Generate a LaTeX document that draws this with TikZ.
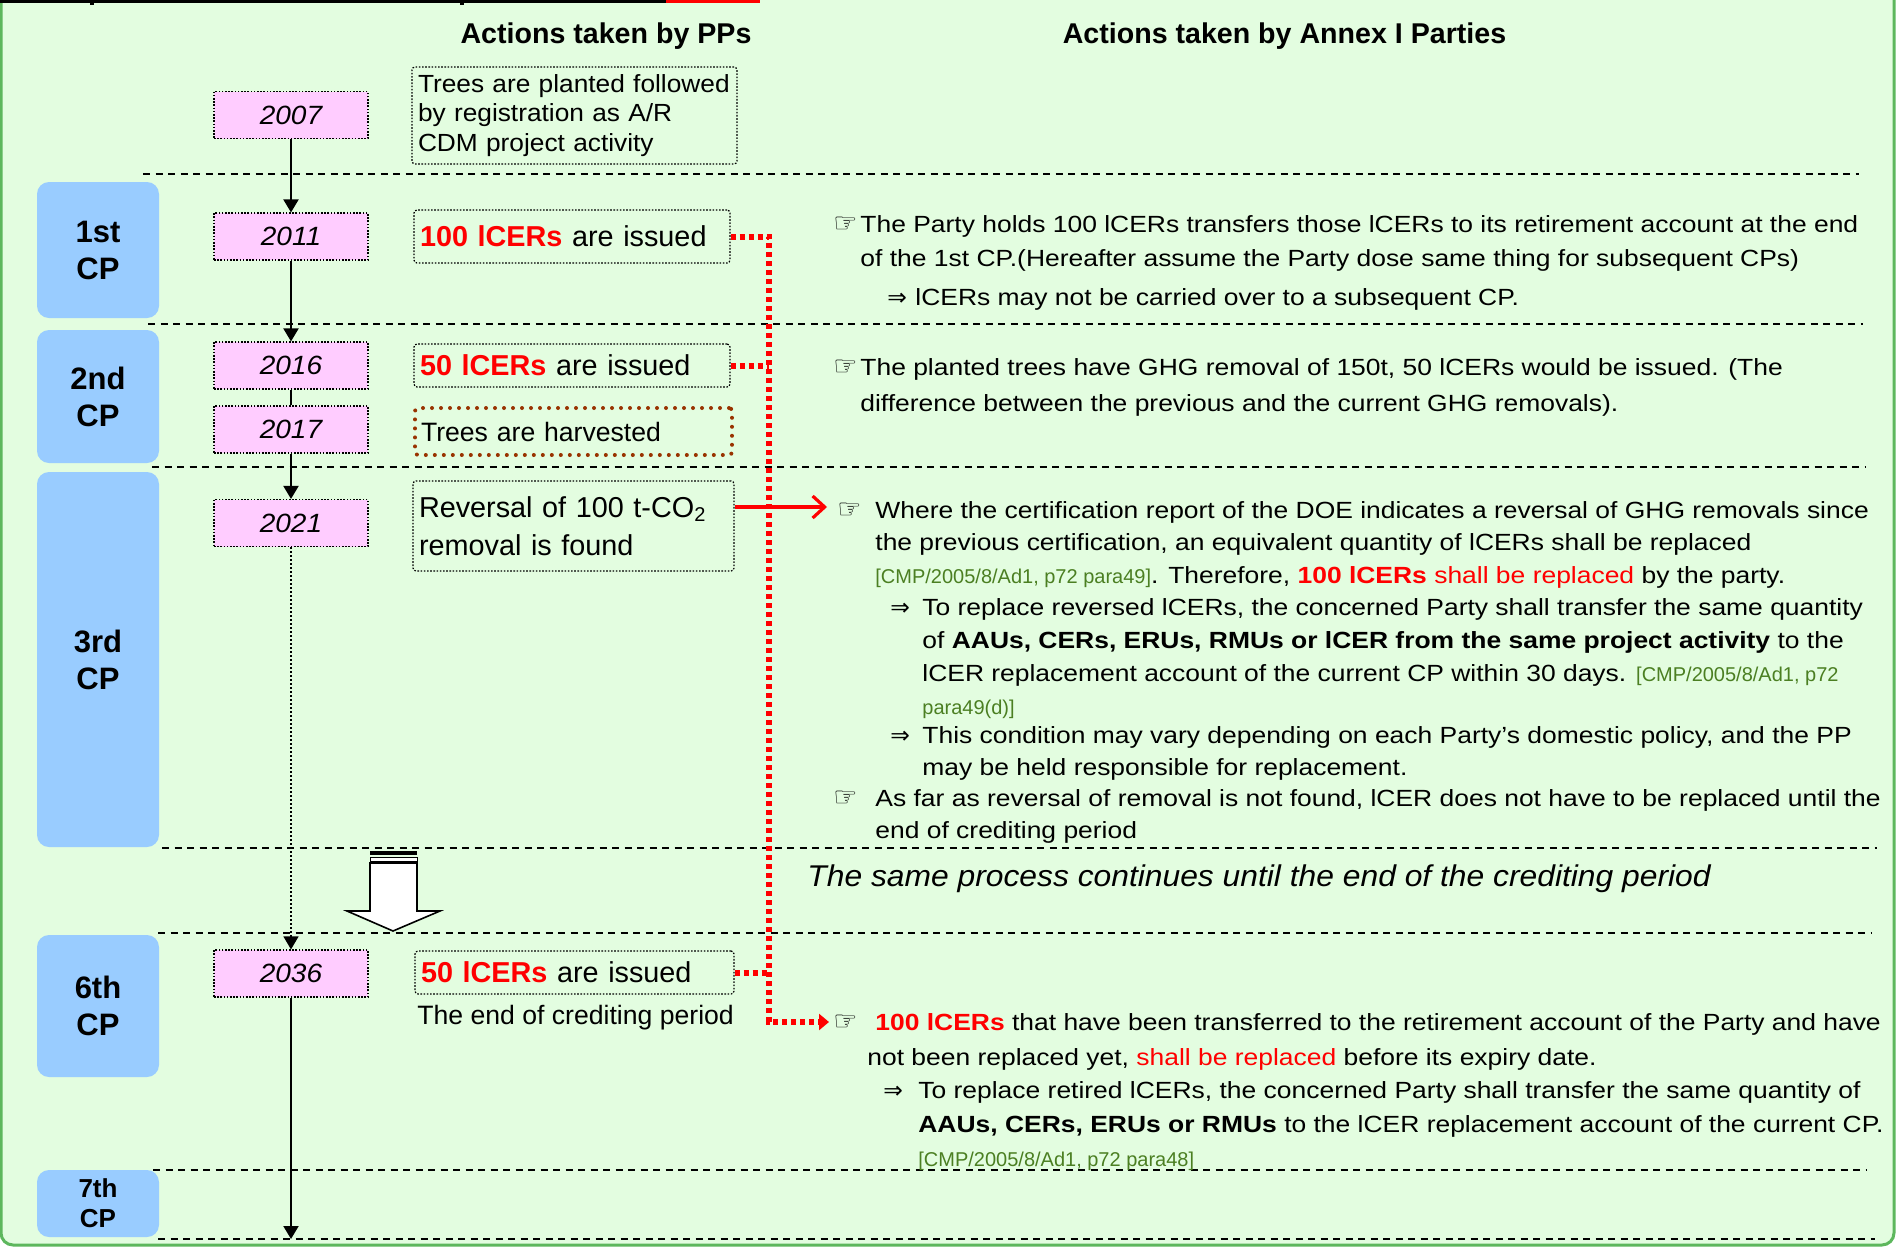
\documentclass[tikz,border=0pt]{standalone}
\usepackage{fontspec}
\setmainfont{Liberation Sans}
\newfontfamily\symfont{DejaVu Sans}
\newfontfamily\rtext[FakeStretch=1.13]{Liberation Sans}
\newfontfamily\ltext[FakeStretch=1.06]{Liberation Sans}
\usetikzlibrary{arrows.meta}
\definecolor{bg}{HTML}{E3FDE0}
\definecolor{pinkbox}{HTML}{FFCCFF}
\definecolor{cpblue}{HTML}{99CCFF}
\definecolor{citgreen}{HTML}{4B7F22}
\definecolor{brownd}{HTML}{993300}
\definecolor{frame}{HTML}{5DB75D}
\newcommand{\fs}[2]{\fontsize{#1}{#2}\selectfont}
\newcommand{\hand}{{\symfont\fontsize{13.5pt}{13.5pt}\selectfont ☞}}
\newcommand{\imp}{{\symfont ⇒}}
\newcommand{\cit}[1]{{\rmfamily\fontsize{10pt}{12pt}\selectfont\color{citgreen}#1}}
\newcommand{\rl}[1]{\begin{tabular}[t]{@{}l@{}}#1\end{tabular}}
\begin{document}
\begin{tikzpicture}[x=0.5pt,y=-0.5pt,
  hdr/.style={anchor=base, inner sep=0pt, font=\fs{14.3pt}{17pt}\bfseries},
  cpbox/.style={fill=cpblue, rounded corners=6pt, minimum width=61pt, inner sep=0pt, align=center, font=\fs{15.5pt}{18.5pt}\bfseries},
  ybox/.style={draw=black, line width=0.6pt, dash pattern=on 0.8pt off 0.8pt, fill=pinkbox, minimum width=77pt, minimum height=23.5pt, inner sep=0pt, font=\ltext\fs{13.2pt}{16pt}\itshape},
  abox/.style={draw=black, line width=0.6pt, dash pattern=on 0.8pt off 0.8pt, rounded corners=1.5pt, align=left, inner xsep=3pt, inner ysep=0pt},
  para/.style={anchor=base west, inner sep=0pt},
  blk/.style={line width=1pt, -{Triangle[length=6.5pt,width=7.5pt]}},
  reddot/.style={red, line width=3pt, dash pattern=on 2.5pt off 2pt},
  sep/.style={line width=1pt, dash pattern=on 3.5pt off 2.75pt}
]
\useasboundingbox (0,0) rectangle (1897,1248);
\fill[white] (0,0) rectangle (1897,1248);
\draw[frame, line width=1.5pt, fill=bg, rounded corners=6pt] (1,-10) -- (1,1245) -- (1894,1245) -- (1894,-10);
% top rule remnants
\draw[line width=1.5pt] (0,1.5) -- (666,1.5);
\draw[red, line width=1.5pt] (666,1.5) -- (760,1.5);
\fill (90,0) rectangle (94,5);
\fill (460,0) rectangle (464,5);

% separators
\draw[sep] (143,174) -- (1859,174);
\draw[sep] (148,324) -- (1863,324);
\draw[sep] (152,467) -- (1865,467);
\draw[sep] (162,848) -- (1877,848);
\draw[sep] (158,933) -- (1872,933);
\draw[sep] (153,1170) -- (1867,1170);
\draw[sep] (158,1239) -- (1875,1239);

% headers
\node[hdr] (hA) at (606,43) {Actions taken by PPs};
\node[hdr] (hB) at (1284.5,43) {Actions taken by Annex I Parties};

% CP boxes
\node[cpbox, minimum height=68pt] (cp1) at (98,250) {1st\\CP};
\node[cpbox, minimum height=66.5pt] (cp2) at (98,396.5) {2nd\\CP};
\node[cpbox, minimum height=187.5pt] (cp3) at (98,659.5) {3rd\\CP};
\node[cpbox, minimum height=71pt] (cp6) at (98,1006) {6th\\CP};
\node[cpbox, minimum height=33.5pt, font=\fs{13pt}{15pt}\bfseries] (cp7) at (98,1203.5) {7th\\CP};

% year boxes
\node[ybox] (y2007) at (291,115) {2007};
\node[ybox] (y2011) at (291,236.5) {2011};
\node[ybox] (y2016) at (291,365.5) {2016};
\node[ybox] (y2017) at (291,429.5) {2017};
\node[ybox] (y2021) at (291,523) {2021};
\node[ybox] (y2036) at (291,973.5) {2036};
\coordinate (tlend) at (291,1239);

% action boxes
\node[abox, text width=156.5pt, minimum height=48.5pt, font=\ltext\fs{12.4pt}{14.8pt}] (tp) at (574.5,115.5) {Trees are planted followed\\by registration as A/R\\CDM project activity};
\node[abox, text width=152pt, minimum height=26.5pt, font=\fs{14.4pt}{17pt}] (i100) at (572,236.5) {{\color{red}\bfseries 100 lCERs} are issued};
\node[abox, text width=152pt, minimum height=21.5pt, font=\fs{14.4pt}{17pt}] (i50a) at (572,365.5) {{\color{red}\bfseries 50 lCERs} are issued};
\node[abox, draw=brownd, line width=2pt, dash pattern=on 0pt off 4.5pt, line cap=round, text width=152.5pt, minimum height=23.5pt, font=\fs{13.3pt}{16pt}] (hv) at (573.5,431.5) {Trees are harvested};
\node[abox, text width=154.5pt, minimum height=45pt, font=\fs{14.4pt}{19pt}] (rev) at (573.5,526) {Reversal of 100 t-CO\textsubscript{2}\\removal is found};
\node[abox, text width=153.5pt, minimum height=21.5pt, font=\fs{14.4pt}{17pt}] (i50b) at (574.5,972.5) {{\color{red}\bfseries 50 lCERs} are issued};
\node[anchor=west, inner sep=0pt, font=\fs{13.3pt}{16pt}] (eoc) at (417,1018) {The end of crediting period};

% timeline connectors
\draw[blk] (y2007) -- (y2011);
\draw[blk] (y2011) -- (y2016);
\draw[line width=1pt] (y2016) -- (y2017);
\draw[blk] (y2017) -- (y2021);
\draw[line width=0.6pt, dash pattern=on 0.8pt off 1.2pt, -{Triangle[length=6.5pt,width=7.5pt]}] (y2021) -- (y2036);
\draw[blk] (y2036) -- (tlend);

% block arrow
\fill (370,851) rectangle (417,855);
\draw[fill=white, line width=0.5pt] (370,857) rectangle (417,861);
\draw[fill=white, line width=0.8pt] (370,863) -- (417,863) -- (417,911) -- (440,911) -- (393,931) -- (347,911) -- (370,911) -- cycle;

% right column
\node[para, font=\rtext\fs{11.7pt}{17pt}] (p1) at (833,232) {\rl{\makebox[13.5pt][l]{\hand}The Party holds 100 lCERs transfers those lCERs to its retirement account at the end\\\hspace*{13.5pt}of the 1st CP.(Hereafter assume the Party dose same thing for subsequent CPs)}};
\node[para, font=\rtext\fs{11.7pt}{14pt}] (p1b) at (887,305) {\makebox[14pt][l]{\imp}lCERs may not be carried over to a subsequent CP.};
\node[para, font=\rtext\fs{11.7pt}{18pt}] (p2) at (833,375) {\rl{\makebox[13.5pt][l]{\hand}The planted trees have GHG removal of 150t, 50 lCERs would be issued. (The\\\hspace*{13.5pt}difference between the previous and the current GHG removals).}};
\node[para, font=\rtext\fs{11.7pt}{16.25pt}] (p3) at (837,518) {\rl{\makebox[19pt][l]{\hand}Where the certification report of the DOE indicates a reversal of GHG removals since\\\hspace*{19pt}the previous certification, an equivalent quantity of lCERs shall be replaced\\\hspace*{19pt}\cit{[CMP/2005/8/Ad1, p72 para49]}. Therefore, {\color{red}\bfseries 100 lCERs} {\color{red}shall be replaced} by the party.}};
\node[para, font=\rtext\fs{11.7pt}{16.5pt}] (p3a) at (890,615) {\rl{\makebox[16pt][l]{\imp}To replace reversed lCERs, the concerned Party shall transfer the same quantity\\\hspace*{16pt}of \textbf{AAUs, CERs, ERUs, RMUs or lCER from the same project activity} to the\\\hspace*{16pt}lCER replacement account of the current CP within 30 days. \cit{[CMP/2005/8/Ad1, p72}\\\hspace*{16pt}\cit{para49(d)]}}};
\node[para, font=\rtext\fs{11.7pt}{16pt}] (p3b) at (890,743) {\rl{\makebox[16pt][l]{\imp}This condition may vary depending on each Party’s domestic policy, and the PP\\\hspace*{16pt}may be held responsible for replacement.}};
\node[para, font=\rtext\fs{11.7pt}{16pt}] (p3c) at (833,806) {\rl{\makebox[21pt][l]{\hand}As far as reversal of removal is not found, lCER does not have to be replaced until the\\\hspace*{21pt}end of crediting period}};
\node[para, font=\ltext\fs{15pt}{18pt}\itshape] (same) at (807,886) {The same process continues until the end of the crediting period};
\node[para, font=\rtext\fs{11.7pt}{17.5pt}] (p6) at (833,1030) {\rl{\makebox[21pt][l]{\hand}{\color{red}\bfseries 100 lCERs} that have been transferred to the retirement account of the Party and have\\\hspace*{17pt}not been replaced yet, {\color{red}shall be replaced} before its expiry date.}};
\node[para, font=\rtext\fs{11.7pt}{17pt}] (p6a) at (883,1098) {\rl{\makebox[17.5pt][l]{\imp}To replace retired lCERs, the concerned Party shall transfer the same quantity of\\\hspace*{17.5pt}\textbf{AAUs, CERs, ERUs or RMUs} to the lCER replacement account of the current CP.\\\hspace*{17.5pt}\cit{[CMP/2005/8/Ad1, p72 para48]}}};

% red connectors
\coordinate (rx) at (769,0);
\coordinate (rend) at (829,1022);
\coordinate (rarr) at (827,507);
\draw[reddot, -{Triangle[length=5pt,width=8pt]}] (i100.east) -- (i100.east -| rx) -- (rx |- rend) -- (rend);
\draw[reddot] (i50a.east) -- (i50a.east -| rx);
\draw[reddot] (i50b.east) -- (i50b.east -| rx);
\draw[red, line width=1.6pt, -{Straight Barb[length=6pt,width=11pt]}] ([yshift=9.5pt]rev.east) -- (rarr);
\end{tikzpicture}
\end{document}
